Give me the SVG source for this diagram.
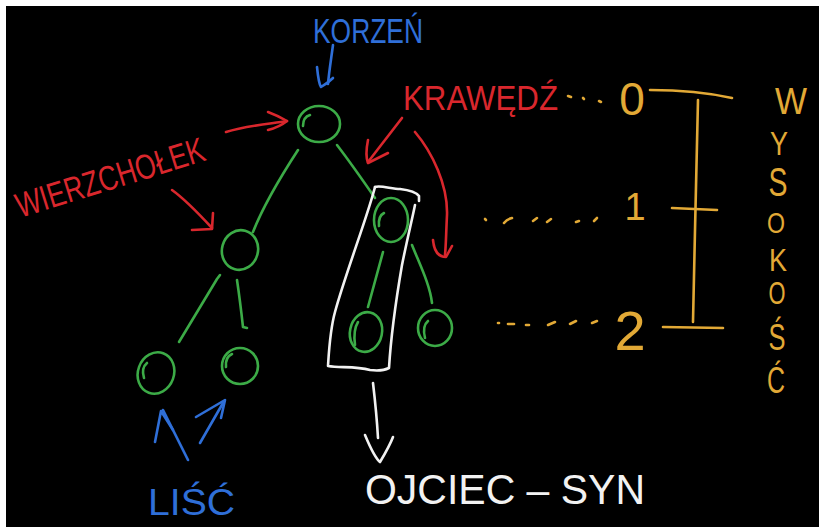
<svg xmlns="http://www.w3.org/2000/svg" width="819" height="527" viewBox="0 0 819 527">
  <style>
    .ink { fill: none; stroke-width: 2.6; stroke-linecap: round; stroke-linejoin: round; }
    .green { stroke: #3cab47; }
    .red { stroke: #d9272d; }
    .blue { stroke: #2f6fd8; }
    .gold { stroke: #e2a936; }
    .white { stroke: #f2f2f2; }
    .lbl { font-family: "Liberation Sans", "DejaVu Sans", sans-serif; }
    .t-red { fill: #d9272d; }
    .t-blue { fill: #2f6fd8; }
    .t-gold { fill: #e2a936; }
    .t-white { fill: #f2f2f2; }
  </style>

  <!-- board -->
  <rect x="0" y="0" width="819" height="527" fill="#ffffff"/>
  <rect x="6" y="6" width="813" height="521" fill="#000000"/>

  <!-- tree edges -->
  <g id="connectors" class="ink green">
    <path d="M298,150 C285,170 264,204 253,232"/>
    <path d="M337,145 C350,162 364,182 375,198"/>
    <path d="M220,275 L217,279 L179,342"/>
    <path d="M237,280 C240,300 242,318 243,327 L247,328"/>
    <path d="M383,252 L368,307"/>
    <path d="M412,245 C420,265 430,285 432,303"/>
  </g>

  <!-- tree nodes -->
  <g id="node-root" class="ink green">
    <ellipse cx="319" cy="124" rx="21" ry="18"/>
    <path d="M303,126 Q303,117 310,115"/>
  </g>
  <g id="node-left" class="ink green">
    <ellipse cx="240" cy="250" rx="18" ry="20" transform="rotate(15 240 250)"/>
  </g>
  <g id="node-right" class="ink green">
    <ellipse cx="391" cy="220" rx="17" ry="22"/>
    <path d="M379,226 Q378,216 384,213"/>
  </g>
  <g id="node-leaf-1" class="ink green">
    <ellipse cx="156" cy="373" rx="18" ry="21" transform="rotate(20 156 373)"/>
    <path d="M144,378 Q141,368 147,363"/>
  </g>
  <g id="node-leaf-2" class="ink green">
    <ellipse cx="240" cy="366" rx="18" ry="18"/>
    <path d="M226,367 Q225,357 232,354"/>
  </g>
  <g id="node-leaf-3" class="ink green">
    <ellipse cx="366" cy="332" rx="16" ry="20" transform="rotate(12 366 332)"/>
    <path d="M355,345 Q353,330 358,322"/>
  </g>
  <g id="node-leaf-4" class="ink green">
    <ellipse cx="435" cy="328" rx="17" ry="18"/>
    <path d="M425,338 Q422,326 428,321"/>
  </g>

  <!-- parent-child highlight -->
  <g id="pair-box" class="ink white">
    <path d="M375,187 C380,185 392,189 400,189 C408,190 416,192 419,196 L419,201"/>
    <path d="M375,187 C368,215 345,275 335,312 C330,330 329,350 328,366 C340,368 355,366 370,370 C378,371 385,370 389,368 C391,335 396,300 402,265 C407,240 412,220 415,205"/>
    <path d="M373,383 C375,400 377,420 378,438"/>
    <path d="M365,435 C370,447 375,458 380,462 C386,452 390,445 393,437"/>
  </g>

  <!-- height scale -->
  <g id="height-scale" class="ink gold">
    <path d="M568,96 L571,97"/>
    <path d="M583,98 L584,99"/>
    <path d="M599,101 L601,102"/>
    <path d="M650,90 C675,90 705,92 732,98"/>
    <path d="M698,100 C697,170 694,250 693,322"/>
    <path d="M672,208 L717,210"/>
    <path d="M663,327 L723,328"/>
    <path d="M485,219 L486,220"/>
    <path d="M504,223 Q507,219 512,218"/>
    <path d="M533,221 L537,218"/>
    <path d="M547,222 L551,219"/>
    <path d="M576,222 L579,221"/>
    <path d="M594,221 L597,218"/>
    <path d="M498,323 L499,323"/>
    <path d="M508,324 L514,324"/>
    <path d="M526,325 L529,325"/>
    <path d="M548,325 L555,322"/>
    <path d="M570,324 L576,321"/>
    <path d="M592,323 L597,321"/>
  </g>
  <g id="level-labels" class="lbl t-gold">
    <text x="632" y="115" font-size="46" text-anchor="middle">0</text>
    <text x="635" y="220" font-size="38" text-anchor="middle">1</text>
    <text x="630" y="350" font-size="56" text-anchor="middle">2</text>
  </g>
  <g id="height-label" class="lbl t-gold" text-anchor="middle">
    <text x="791" y="114" font-size="36" textLength="32" lengthAdjust="spacingAndGlyphs">W</text>
    <text x="779" y="155" font-size="33" textLength="18" lengthAdjust="spacingAndGlyphs">Y</text>
    <text x="778" y="196" font-size="40" textLength="19" lengthAdjust="spacingAndGlyphs">S</text>
    <text x="776" y="233" font-size="30" textLength="18" lengthAdjust="spacingAndGlyphs">O</text>
    <text x="778" y="271" font-size="31" textLength="18" lengthAdjust="spacingAndGlyphs">K</text>
    <text x="777" y="304" font-size="32" textLength="17" lengthAdjust="spacingAndGlyphs">O</text>
    <text x="777" y="350" font-size="36" textLength="17" lengthAdjust="spacingAndGlyphs">Ś</text>
    <text x="776" y="393" font-size="36" textLength="18" lengthAdjust="spacingAndGlyphs">Ć</text>
  </g>

  <!-- annotation arrows -->
  <g id="annotation-arrows" class="ink">
    <path class="blue" d="M333,45 C331,60 329,72 328,84"/>
    <path class="blue" d="M317,67 C318,77 319,84 321,87 C326,84 330,81 333,78"/>
    <path class="red" d="M226,132 C245,126 268,124 287,121"/>
    <path class="red" d="M268,112 C276,115 282,118 287,121 C282,125 276,128 268,130"/>
    <path class="red" d="M172,190 C186,200 200,215 212,228"/>
    <path class="red" d="M192,230 L212,229 L213,213"/>
    <path class="red" d="M402,118 L368,162"/>
    <path class="red" d="M368,140 C366,150 366,158 368,163 L388,153"/>
    <path class="red" d="M415,132 C432,152 448,185 447,215 C446,235 446,245 445,255"/>
    <path class="red" d="M433,240 C434,250 438,257 446,257 L452,246"/>
    <path class="blue" d="M188,460 L163,410"/>
    <path class="blue" d="M155,442 L161,411 L173,430"/>
    <path class="blue" d="M200,443 L223,403"/>
    <path class="blue" d="M196,417 L225,400 L221,418"/>
  </g>

  <!-- labels -->
  <g id="labels" class="lbl">
    <text class="t-blue" x="313" y="43" font-size="35" textLength="110" lengthAdjust="spacingAndGlyphs">KORZEŃ</text>
    <text class="t-red" x="403" y="110" font-size="35" textLength="155" lengthAdjust="spacingAndGlyphs">KRAWĘDŹ</text>
    <text class="t-red" x="20" y="218" font-size="35" textLength="196" lengthAdjust="spacingAndGlyphs" transform="rotate(-17.2 20 218)">WIERZCHOŁEK</text>
    <text class="t-blue" x="148" y="515" font-size="37" textLength="87" lengthAdjust="spacingAndGlyphs">LIŚĆ</text>
    <text class="t-white" x="365" y="504" font-size="42" textLength="280" lengthAdjust="spacingAndGlyphs">OJCIEC – SYN</text>
  </g>
</svg>
